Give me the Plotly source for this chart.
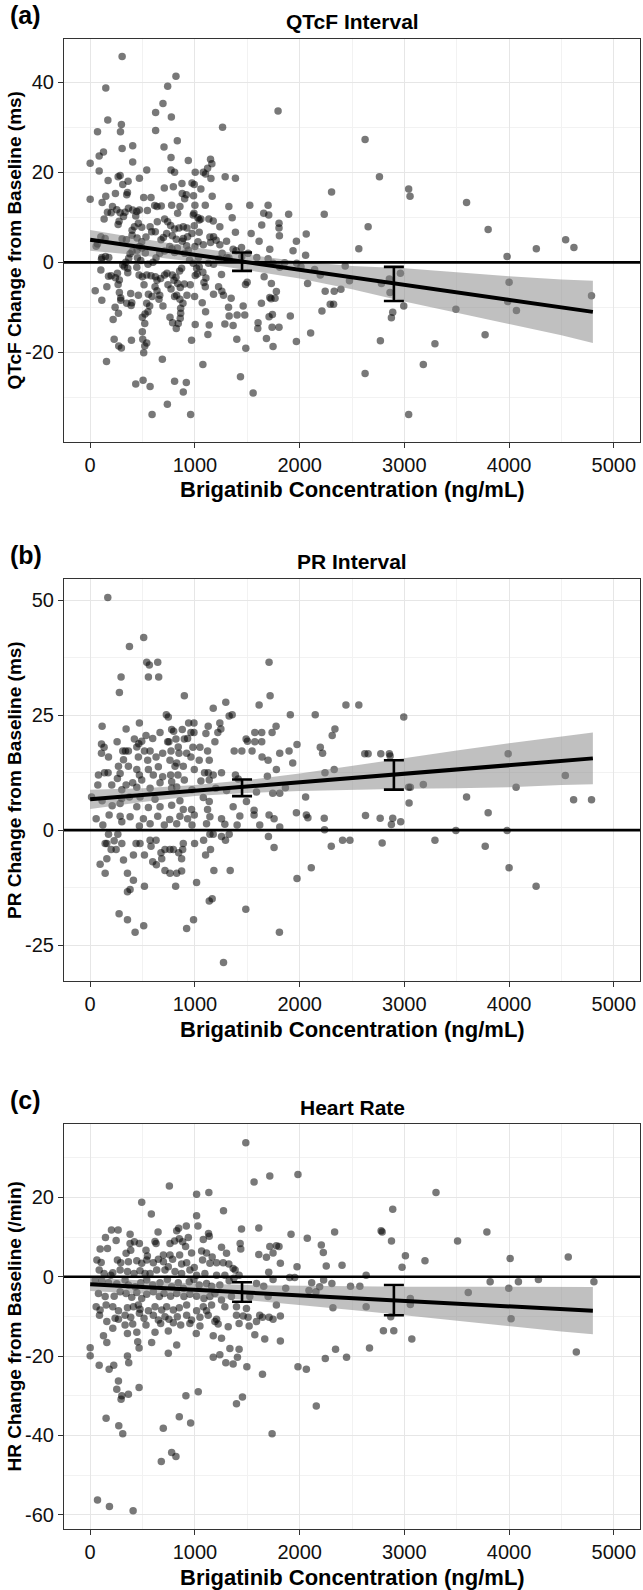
import plotly.graph_objects as go

W, H = 643, 1590

# ---------------- data ----------------
# Panel (a): QTcF change from baseline (ms) vs brigatinib concentration (ng/mL)
qtcf_points = [
    (2625,27.3),(2762,19.0),(2305,15.6),(3041,16.3),(3054,14.7),(3594,13.3),(2235,10.7),(3800,7.3),(2654,7.9),
    (2063,6.3),(4540,5.0),(2565,3.0),(4260,3.0),(4619,3.3),(2057,1.6),(3981,1.3),(2435,-0.8),(2143,-1.6),
    (2197,-2.8),(2076,-4.7),(2476,-4.1),(2781,-4.7),(2857,-3.7),(2962,-2.4),(4000,-4.4),(4787,-7.4),(2244,-6.4),
    (2330,-6.4),(2394,-6.0),(2863,-6.7),(3987,-8.7),(2994,-9.7),(2213,-10.8),(2292,-9.3),(2324,-9.3),(3492,-10.4),
    (4070,-10.7),(2889,-11.1),(2876,-12.3),(2105,-15.7),(3771,-16.1),(2771,-17.4),(3292,-18.1),(3181,-22.7),
    (2625,-24.7),(3041,-33.8),
    (305,45.7),(819,41.3),(149,38.7),(740,39.1),(695,35.3),(775,32.3),(625,33.3),(168,31.6),(298,30.6),(70,29.0),
    (289,29.0),(625,29.3),(1794,33.6),(1264,30.0),(832,27.0),(705,25.6),(305,25.3),(406,25.9),(127,24.5),(86,23.6),
    (0,22.0),(406,22.3),(772,23.3),(937,22.6),(1003,20.0),(806,20.0),(772,20.5),(540,20.5),(1149,22.9),(1162,21.9),
    (1121,20.9),(1080,20.0),(1102,19.6),(1289,19.0),(1387,18.7),(86,20.3),(286,19.3),(267,19.0),(171,18.2),(362,18.0),
    (470,18.7),(1153,18.6),(972,17.6),(994,17.3),(1057,16.3),(876,17.5),(708,16.5),(794,16.8),(311,17.3),(356,15.5),
    (0,14.0),(149,14.7),(241,15.3),(349,15.0),(511,14.4),(581,14.4),(879,15.3),(918,15.0),(902,14.1),(1165,14.7),
    (987,14.8),(616,12.6),(679,12.5),(778,12.7),(857,12.4),(1000,12.7),(1099,12.7),(114,13.3),(213,12.4),(254,11.7),
    (286,11.0),(365,12.0),(406,11.6),(445,11.3),(470,11.6),(546,11.5),(638,12.4),(835,10.9),(991,10.9),(1057,9.6),
    (1133,9.6),(1175,9.2),(1238,7.9),(1324,12.4),(1356,9.9),(1387,6.7),(133,9.6),(165,11.1),(200,11.0),(333,11.1),
    (435,10.3),(460,8.7),(267,8.4),(422,7.9),(400,7.1),(492,7.8),(572,7.9),(641,9.0),(711,9.6),(740,9.0),(768,8.2),
    (806,7.4),(848,7.6),(889,7.9),(924,7.6),(994,8.1),(1041,6.7),(1143,5.6),(1203,4.9),(1302,4.7),(1445,3.3),
    (1365,2.9),(1537,6.4),(1638,8.3),(1613,4.7),(1715,2.9),(1524,12.7),(1699,12.7),(1705,10.5),(1657,10.9),
    (1803,8.7),(1803,7.6),(1807,5.9),(1895,10.7),(1969,4.7),(1937,2.6),(1857,-0.1),(1746,-0.2),(1699,0.8),
    (1591,1.1),(1810,-1.1),(1972,-0.2),(2013,-1.0),(1911,-11.9),(1727,-8.1),(1740,-11.6),(1708,-12.1),(1737,-14.4),
    (1803,-14.4),(1635,-9.1),(1715,-7.8),(1778,-6.5),(1765,-8.0),(1730,-4.7),(1661,-3.2),(1499,-4.4),(1483,-4.9),
    (1461,-9.7),(1476,-11.7),(1403,-11.7),(1327,-11.9),(1286,-13.7),(1365,-14.0),(1400,-17.1),(1486,-19.1),
    (1435,-25.4),(1556,-29.0),(1603,-13.4),(1600,-14.7),(1683,-16.9),(1746,-18.7),(1969,-17.6),(1321,-10.0),
    (1346,-8.0),(1273,-7.3),(1257,-6.4),(1178,-7.1),(1226,-5.4),(1099,-5.4),(1086,-4.5),(1022,-2.6),(1076,-2.2),
    (1105,-3.5),(1130,-0.2),(1178,-0.4),(1226,0.8),(1260,2.0),(1305,1.1),(1324,1.0),(1254,-2.7),(1137,-13.9),
    (1102,-11.0),(1070,-9.0),(997,-7.6),(956,-5.0),(899,-4.8),(860,-5.6),(835,-4.7),(800,-4.0),(743,-5.0),(733,-2.4),
    (711,-2.8),(673,-3.6),(638,-4.0),(622,-3.2),(581,-3.0),(540,-2.8),(514,-5.0),(556,-7.1),(540,-9.1),(460,-7.3),
    (387,-6.9),(397,-9.0),(391,-9.6),(349,-9.1),(292,-7.9),(279,-6.7),(267,-4.9),(279,-3.9),(241,-3.4),(260,-2.4),
    (359,-2.3),(359,-1.3),(327,-1.0),(311,-0.6),(340,0.0),(368,0.9),(381,1.9),(400,2.4),(448,2.7),(470,3.5),
    (495,3.2),(527,2.1),(451,1.0),(483,0.4),(445,-1.1),(467,-2.8),(498,-3.2),(552,-0.4),(600,0.0),(629,1.0),
    (664,2.0),(711,2.5),(759,3.5),(781,3.0),(806,2.2),(832,3.2),(879,4.7),(921,3.7),(937,2.7),(902,2.0),(949,0.5),
    (984,-0.2),(1016,-1.3),(1041,-1.0),(873,-1.3),(854,-1.9),(819,-3.3),(784,-2.8),(772,-5.9),(806,-7.6),(826,-7.3),
    (857,-8.2),(886,-9.1),(864,-10.2),(864,-11.3),(860,-12.4),(841,-13.6),(822,-14.7),(787,-13.4),(762,-12.2),
    (695,-9.7),(657,-8.2),(664,-7.3),(638,-6.3),(619,-5.4),(591,-7.6),(568,-9.7),(552,-11.0),(524,-11.5),(498,-12.2),
    (521,-13.6),(498,-15.4),(502,-17.1),(521,-18.6),(511,-20.1),(540,-17.9),(394,-17.3),(298,-19.0),(273,-18.6),
    (229,-17.1),(219,-12.7),(270,-11.3),(238,-10.0),(292,-8.4),(111,-8.4),(159,-5.4),(200,-3.0),(175,-3.1),
    (102,-1.7),(111,1.1),(108,0.7),(178,1.1),(146,1.3),(143,5.3),(102,5.7),(70,4.1),(57,3.6),(48,-6.3),(156,-22.0),
    (435,-27.0),(505,-26.2),(572,-27.6),(806,-26.4),(918,-26.7),(889,-28.8),(737,-31.5),(591,-33.8),(959,-33.8),
    (689,-21.5),(1076,-22.7),(1124,-16.0),(1003,-13.8),(968,-17.3),(924,-7.3),(1003,-2.9),(1035,1.1),(972,6.4),
    (984,10.5),(1029,9.9),(1041,9.4),(1178,5.7),(1149,4.4),(1238,3.9),(1394,2.6),(1508,2.0),(1448,1.3),(318,10.2),
    (276,9.1),(305,5.2),(346,5.0),(400,6.0),(448,5.4),(492,4.6),(533,5.6),(587,6.8),(622,6.8),(676,5.0),(699,5.5),
    (730,6.4),(784,5.9),(822,5.1),(889,5.3),(930,5.7),(1000,3.5),(1029,4.6),(1080,3.9),
]

# Panel (b): PR change from baseline (ms)
pr_points = [
    (168,50.6),(511,41.9),(375,39.9),(540,36.5),(565,35.9),(645,36.5),(556,33.3),(654,33.3),(295,33.3),(279,29.9),
    (899,29.2),(1708,36.5),(1718,29.2),(1613,27.2),(1295,27.8),(1175,26.5),(1327,24.8),(1356,25.1),(1911,25.1),
    (2149,25.1),(727,25.1),(746,24.6),(114,22.6),(343,22.0),(470,23.3),(940,23.3),(991,23.3),(1127,22.6),(1238,23.3),
    (1248,22.0),(1219,21.2),(1775,22.6),(1737,21.2),(2337,22.0),(2311,20.6),(533,20.6),(597,19.9),(667,21.2),
    (778,21.9),(797,21.5),(879,21.9),(930,19.9),(962,21.2),(991,21.2),(1105,21.0),(1191,19.2),(1489,19.8),(1502,19.3),
    (1572,21.2),(1638,21.2),(1572,19.2),(1638,19.2),(1975,18.6),(108,18.7),(133,18.0),(257,19.2),(422,19.8),
    (445,18.1),(464,18.8),(492,19.3),(740,19.2),(752,19.2),(819,19.8),(841,18.1),(899,19.8),(981,18.0),(1048,18.0),
    (1121,17.2),(108,16.7),(175,15.9),(311,17.2),(337,17.2),(365,17.2),(518,17.2),(572,17.2),(692,16.7),(772,17.2),
    (848,16.7),(921,16.7),(1375,17.2),(1448,17.2),(1546,17.2),(1810,16.7),(1899,17.2),(2197,18.0),(2219,16.7),
    (1641,15.9),(1699,15.2),(1934,14.6),(318,15.3),(460,15.9),(549,15.2),(629,15.9),(762,15.2),(826,14.6),(962,15.9),
    (1041,15.2),(1137,15.2),(270,13.9),(365,13.9),(445,13.2),(556,13.2),(651,13.8),(810,13.9),(889,13.9),(994,13.2),
    (137,12.5),(171,12.5),(79,12.0),(286,12.3),(470,12.0),(603,12.0),(692,11.6),(768,12.0),(838,12.0),(1092,12.5),
    (1127,12.5),(1175,12.0),(1254,12.5),(1387,12.0),(1778,13.2),(2242,12.5),(2330,13.2),(260,11.2),(343,9.8),
    (406,10.3),(492,10.9),(667,10.3),(778,10.5),(899,10.9),(1057,10.7),(1137,10.9),(1413,11.1),(1692,11.7),
    (1864,9.2),(73,9.8),(206,9.8),(302,8.8),(445,9.3),(572,9.1),(778,9.1),(826,9.4),(972,8.8),(1200,9.1),(1302,8.6),
    (1588,8.3),(1743,8.0),(1810,8.0),(13,7.2),(114,6.4),(302,6.9),(375,7.2),(476,7.2),(619,6.7),(857,6.4),(1080,7.1),
    (1137,6.2),(1492,6.2),(2057,7.2),(210,5.3),(286,5.8),(445,5.1),(556,4.9),(667,5.1),(778,5.4),(889,4.5),(968,4.5),
    (1121,4.5),(1365,5.1),(1565,4.3),(1969,3.8),(2064,3.3),(2235,2.6),(57,2.5),(181,3.3),(286,3.0),(381,2.9),
    (508,2.5),(645,3.0),(759,2.3),(857,3.0),(930,2.5),(994,3.3),(1143,2.9),(1254,2.5),(1429,3.1),(1565,3.3),
    (1708,3.3),(1756,2.5),(121,1.1),(302,1.8),(470,0.9),(572,1.4),(708,1.1),(826,1.4),(972,1.1),(1111,1.4),
    (1286,1.3),(1403,1.1),(1619,1.1),(1810,0.7),(2238,0.1),
    (2442,27.2),(2565,27.2),(2994,24.6),(2622,16.6),(2654,16.6),(2775,16.6),(2857,16.6),(2864,16.1),(3991,16.6),
    (4537,11.9),(3041,9.3),(3057,9.3),(3181,9.9),(4067,9.3),(3594,7.2),(4616,6.6),(4787,6.6),(3045,5.9),(3800,3.8),
    (2079,2.7),(2629,3.2),(2769,2.6),(2889,2.6),(2876,1.2),(2965,1.8),(3492,-0.1),(3981,-0.1),
    (175,-0.9),(264,-0.9),(143,-2.9),(159,-2.9),(302,-2.9),(229,-2.3),(200,-4.2),(248,-4.2),(159,-6.2),(95,-7.4),
    (143,-9.4),(318,-6.5),(356,-9.4),(413,-5.4),(438,-2.9),(476,-2.9),(518,-5.4),(572,-2.2),(629,-2.2),(581,-3.5),
    (676,-4.9),(714,-4.2),(683,-6.2),(597,-6.9),(632,-7.5),(714,-8.8),(762,-9.4),(762,-4.2),(794,-4.2),(845,-4.9),
    (873,-6.2),(883,-4.2),(889,-2.9),(873,-8.9),(826,-9.4),(997,-2.9),(1083,-2.2),(1102,-5.4),(1149,-4.2),(1143,-0.9),
    (1175,-0.9),(1181,-8.8),(1254,-1.4),(1292,-2.2),(1327,-0.9),(1337,-8.8),(413,-10.9),(381,-12.9),(356,-13.4),
    (518,-12.2),(816,-12.2),(1016,-11.4),(1165,-14.9),(1137,-15.4),(1486,-17.2),(276,-18.2),(356,-19.5),(429,-22.2),
    (511,-20.8),(921,-21.4),(987,-19.5),(1807,-22.2),(1273,-28.8),(1702,-1.4),(1756,-3.8),(1975,-10.5),(2111,-8.2),
    (2302,-3.5),(2410,-2.2),(2480,-2.2),(2788,-2.8),(3292,-2.2),(3772,-3.5),(4000,-8.2),(4258,-12.2),
]

# Panel (c): heart-rate change from baseline (/min)
hr_points = [
    (1486,33.8),(1565,23.9),(1715,25.4),(1984,25.8),(756,22.9),(1016,20.8),(1133,21.2),(492,18.8),(584,15.8),
    (1016,15.4),(1029,12.8),(1273,16.6),(203,11.8),(267,11.8),(381,10.7),(648,11.3),(826,11.6),(845,12.2),(918,12.8),
    (1130,10.9),(1137,10.2),(1080,9.4),(1445,12.0),(1610,12.3),(1918,10.7),(2334,11.3),(146,9.9),(248,9.1),(381,8.4),
    (422,8.8),(470,8.4),(619,8.9),(629,8.4),(762,8.4),(806,9.0),(851,9.6),(883,8.8),(937,9.9),(911,7.6),(1254,7.4),
    (1432,8.4),(1715,7.6),(1778,7.8),(1803,7.6),(2073,9.7),(2207,8.0),(2226,6.1),(95,7.0),(165,7.1),(343,5.9),
    (387,6.7),(533,6.7),(546,5.2),(699,5.5),(762,5.5),(854,5.5),(968,6.0),(1064,6.5),(1111,6.0),(1165,5.0),(1302,5.9),
    (1438,7.0),(1610,5.6),(1683,4.9),(1746,6.0),(1816,3.4),(2254,2.7),(1975,2.5),(64,4.2),(105,3.6),(260,4.2),
    (292,3.5),(365,3.8),(445,4.0),(492,3.4),(540,4.2),(603,3.5),(651,4.4),(699,3.8),(746,2.5),(787,4.4),(873,3.2),
    (921,3.5),(994,2.3),(1073,4.2),(1143,3.4),(1207,3.5),(1270,3.5),(1324,3.2),(1365,2.1),(1384,1.7),(1705,1.1),
    (1905,-0.2),(1953,-0.2),(86,1.7),(133,0.8),(197,0.4),(216,1.0),(286,1.7),(356,1.3),(419,0.8),(476,1.5),(524,0.8),
    (572,0.8),(635,1.7),(714,1.7),(810,1.3),(873,0.8),(952,1.7),(1016,0.4),(1095,0.8),(1207,0.4),(1286,0.4),
    (1422,0.4),(48,-0.8),(111,-1.0),(175,-1.5),(254,-1.8),(333,-0.8),(365,-2.1),(429,-2.5),(483,-1.5),(540,-0.8),
    (597,-2.1),(667,-1.5),(737,-0.7),(778,-2.5),(841,-1.5),(889,-2.9),(946,-1.3),(991,-0.7),(1041,-2.1),(1111,-1.7),
    (1159,-2.4),(1238,-2.1),(1327,-1.0),(1372,-0.4),(1588,-1.7),(1657,-2.4),(1746,-0.7),(1867,-2.9),(2115,-1.5),
    (2191,-2.5),(2308,-1.7),(79,-4.2),(143,-5.0),(229,-4.9),(286,-3.8),(343,-4.2),(397,-5.2),(445,-4.0),(492,-5.5),
    (540,-4.4),(603,-3.8),(660,-5.0),(705,-4.2),(768,-4.9),(826,-4.2),(895,-5.0),(952,-4.4),(1016,-4.9),(1086,-5.5),
    (1143,-5.0),(1191,-4.2),(1254,-5.9),(1349,-5.0),(1524,-5.0),(1699,-5.0),(1778,-7.1),(2156,-3.8),(57,-7.6),
    (95,-8.4),(152,-7.1),(216,-7.6),(270,-8.6),(356,-7.8),(413,-7.6),(460,-7.1),(476,-8.2),(556,-8.6),(619,-7.6),
    (683,-8.4),(730,-7.6),(794,-8.4),(851,-7.8),(921,-7.1),(1016,-8.6),(1080,-7.6),(1111,-8.6),(1159,-7.1),
    (1286,-7.6),(1397,-7.6),(1492,-8.0),(2318,-7.8),(89,-9.7),(238,-10.5),(270,-10.7),(333,-9.7),(387,-10.2),
    (470,-9.2),(514,-10.5),(603,-9.7),(651,-10.9),(714,-10.1),(752,-10.7),(832,-10.1),(921,-9.7),(968,-10.9),
    (1048,-10.2),(1127,-9.7),(1207,-10.7),(1397,-9.7),(1461,-9.9),(1508,-10.2),(1619,-9.7),(1645,-10.2),
    (1708,-10.2),(1816,-9.9),(159,-11.3),(333,-12.2),(406,-11.9),(533,-12.2),(673,-11.8),(794,-11.6),(864,-12.2),
    (952,-11.8),(1048,-12.4),(1191,-11.3),(1222,-11.9),(1318,-12.6),(1422,-11.8),(1518,-12.4),(1588,-11.3),
    (1746,-10.7),
    (3302,21.2),(2889,17.0),(2778,11.6),(2788,11.3),(2877,9.0),(3508,9.0),(3788,11.3),(3010,5.3),(3197,4.0),
    (2978,2.4),(4010,4.6),(4565,5.0),(2405,2.9),(2635,0.4),(2229,-0.8),(2089,-3.5),(2486,-2.4),(2575,-2.4),
    (3819,-1.3),(4089,-1.3),(4280,-0.7),(4810,-1.3),(3610,-4.0),(3997,-2.9),(3057,-5.5),(3057,-7.0),(2635,-7.6),
    (4019,-10.6),(2870,-10.1),(2800,-13.6),(2899,-13.6),(3071,-15.7),
    (127,-14.9),(159,-16.6),(216,-13.0),(356,-14.3),(445,-14.0),(454,-16.4),(467,-18.0),(587,-16.6),(619,-14.0),
    (746,-13.7),(826,-17.2),(1013,-14.3),(1175,-14.9),(1254,-15.5),(1334,-18.1),(1422,-18.3),(1572,-14.6),
    (1667,-15.7),(1816,-16.2),(0,-17.9),(0,-19.9),(86,-22.3),(181,-23.3),(225,-22.3),(356,-20.0),(368,-21.7),
    (746,-19.3),(1175,-20.3),(1238,-19.7),(1295,-21.7),(1365,-22.0),(1406,-20.3),(1496,-22.7),(1645,-24.6),
    (1984,-22.7),(2064,-23.3),(2245,-20.6),(2343,-18.3),(270,-26.3),(254,-28.4),(295,-30.9),(302,-30.0),(365,-29.6),
    (467,-27.9),(914,-30.0),(1032,-29.0),(1397,-32.0),(1454,-30.3),(2159,-32.6),(152,-35.7),(851,-35.3),(959,-36.9),
    (698,-38.2),(273,-37.6),(311,-39.6),(1737,-39.6),(778,-44.3),(819,-45.3),(679,-46.6),(70,-56.3),(184,-57.9),
    (410,-59.0),(2448,-20.3),(2667,-18.0),(4642,-19.0),
]

# fitted linear model and its confidence band
fit_conc = [0, 500, 1000, 1500, 2000, 2500, 3000, 3500, 4000, 4500, 4800]
qtcf_lo = [2.6, 1.5, 0.1, -1.7, -3.6, -6.0, -8.7, -11.2, -13.7, -16.2, -17.9]
qtcf_hi = [7.2, 5.2, 3.3, 1.7, 0.2, -0.8, -1.3, -2.2, -3.1, -3.8, -4.1]
pr_lo = [4.6, 6.1, 7.4, 8.1, 8.5, 8.8, 9.0, 9.1, 9.3, 9.8, 10.0]
pr_hi = [8.8, 9.1, 9.8, 10.9, 12.3, 14.0, 15.6, 17.3, 18.9, 20.4, 21.2]
hr_lo = [-3.6, -4.2, -4.9, -5.9, -7.1, -8.4, -9.7, -11.1, -12.4, -13.8, -14.5]
hr_hi = [-0.2, -1.0, -1.7, -2.1, -2.3, -2.4, -2.5, -2.5, -2.6, -2.6, -2.6]
line_conc = [0, 4800]
qtcf_line = [5.0, -11.0]
pr_line = [6.7, 15.6]
hr_line = [-1.9, -8.6]

# binned means with 90% CI
bin_conc = [1450, 2900]
qtcf_mean = [0.2, -4.8]; qtcf_ci_hi = [2.2, -1.0]; qtcf_ci_lo = [-1.9, -8.6]
pr_mean = [9.2, 12.0];   pr_ci_hi = [11.0, 15.2];  pr_ci_lo = [7.4, 8.8]
hr_mean = [-3.9, -5.9];  hr_ci_hi = [-1.4, -2.1];  hr_ci_lo = [-6.3, -9.7]

x_ticks = [0, 1000, 2000, 3000, 4000, 5000]
x_minor = [500, 1500, 2500, 3500, 4500]

panels = [
    dict(pts=qtcf_points, lo=qtcf_lo, hi=qtcf_hi, line=qtcf_line, mean=qtcf_mean, cih=qtcf_ci_hi, cil=qtcf_ci_lo,
         yrange=[-39.9, 49.6], yticks=[-20, 0, 20, 40], yminor=[-30, -10, 10, 30],
         title="QTcF Interval", tag="(a)", ytitle="QTcF Change from Baseline (ms)",
         top=39, bottom=442),
    dict(pts=pr_points, lo=pr_lo, hi=pr_hi, line=pr_line, mean=pr_mean, cih=pr_ci_hi, cil=pr_ci_lo,
         yrange=[-32.8, 54.6], yticks=[-25, 0, 25, 50], yminor=[-12.5, 12.5, 37.5],
         title="PR Interval", tag="(b)", ytitle="PR Change from Baseline (ms)",
         top=579, bottom=981),
    dict(pts=hr_points, lo=hr_lo, hi=hr_hi, line=hr_line, mean=hr_mean, cih=hr_ci_hi, cil=hr_ci_lo,
         yrange=[-63.6, 38.5], yticks=[-60, -40, -20, 0, 20], yminor=[-50, -30, -10, 10, 30],
         title="Heart Rate", tag="(c)", ytitle="HR Change from Baseline (/min)",
         top=1124, bottom=1529),
]

# ---------------- figure ----------------
LEFT, RIGHT = 64, 640
FONT = "Liberation Sans, Arial, sans-serif"

def px_x(p):
    return p / W

def px_y(p):
    return 1 - p / H

fig = go.Figure()
annotations = []
shapes = []
layout_axes = {}

for i, pnl in enumerate(panels, start=1):
    xa = "x" if i == 1 else f"x{i}"
    ya = "y" if i == 1 else f"y{i}"
    conc = [p[0] for p in pnl["pts"]]
    val = [p[1] for p in pnl["pts"]]

    fig.add_trace(go.Scatter(x=conc, y=val, mode="markers", xaxis=xa, yaxis=ya,
                             marker=dict(size=7.5, color="rgba(0,0,0,0.53)", line=dict(width=0)),
                             showlegend=False, hoverinfo="skip"))
    # confidence band
    fig.add_trace(go.Scatter(x=fit_conc, y=pnl["lo"], mode="lines", xaxis=xa, yaxis=ya,
                             line=dict(width=0, color="rgba(0,0,0,0)"), showlegend=False, hoverinfo="skip"))
    fig.add_trace(go.Scatter(x=fit_conc, y=pnl["hi"], mode="lines", xaxis=xa, yaxis=ya, fill="tonexty",
                             fillcolor="rgba(130,130,130,0.5)",
                             line=dict(width=0, color="rgba(0,0,0,0)"), showlegend=False, hoverinfo="skip"))
    # fitted line
    fig.add_trace(go.Scatter(x=line_conc, y=pnl["line"], mode="lines", xaxis=xa, yaxis=ya,
                             line=dict(width=4, color="black"), showlegend=False, hoverinfo="skip"))
    # binned mean error bars
    up = [h - m for h, m in zip(pnl["cih"], pnl["mean"])]
    dn = [m - l for m, l in zip(pnl["mean"], pnl["cil"])]
    fig.add_trace(go.Scatter(x=bin_conc, y=pnl["mean"], mode="markers", xaxis=xa, yaxis=ya,
                             marker=dict(size=1, color="rgba(0,0,0,0)"),
                             error_y=dict(type="data", symmetric=False, array=up, arrayminus=dn,
                                          width=10, thickness=2.6, color="black"),
                             showlegend=False, hoverinfo="skip"))

    # zero reference line
    shapes.append(dict(type="line", xref=f"{xa} domain", yref=ya, x0=0, x1=1, y0=0, y1=0,
                       line=dict(color="black", width=2.6), layer="above"))

    ydom = [px_y(pnl["bottom"]), px_y(pnl["top"])]
    common = dict(showline=True, mirror=True, linecolor="#333333", linewidth=1.2,
                  ticks="outside", ticklen=5, tickwidth=1.2, tickcolor="#333333",
                  showgrid=True, gridcolor="#e6e6e6", gridwidth=1, zeroline=False,
                  tickfont=dict(family=FONT, size=20, color="#111111"))
    xkey = "xaxis" if i == 1 else f"xaxis{i}"
    ykey = "yaxis" if i == 1 else f"yaxis{i}"
    layout_axes[xkey] = dict(domain=[px_x(LEFT), px_x(RIGHT)], anchor=ya, range=[-250, 5250],
                             tickmode="array", tickvals=x_ticks, ticktext=[str(t) for t in x_ticks],
                             minor=dict(tickmode="array", tickvals=x_minor, showgrid=True,
                                        gridcolor="#f2f2f2", gridwidth=1, ticks=""),
                             **common)
    layout_axes[ykey] = dict(domain=ydom, anchor=xa, range=pnl["yrange"],
                             tickmode="array", tickvals=pnl["yticks"],
                             ticktext=[f"{t:g}" for t in pnl["yticks"]],
                             minor=dict(tickmode="array", tickvals=pnl["yminor"], showgrid=True,
                                        gridcolor="#f2f2f2", gridwidth=1, ticks=""),
                             **common)

    top, bottom = pnl["top"], pnl["bottom"]
    annotations += [
        dict(text=f"<b>{pnl['tag']}</b>", x=px_x(8), y=px_y(top - 24), xanchor="left", yanchor="middle",
             font=dict(family=FONT, size=25, color="black")),
        dict(text=f"<b>{pnl['title']}</b>", x=px_x((LEFT + RIGHT) / 2), y=px_y(top - 17),
             xanchor="center", yanchor="middle", font=dict(family=FONT, size=21, color="black")),
        dict(text="<b>Brigatinib Concentration (ng/mL)</b>", x=px_x((LEFT + RIGHT) / 2), y=px_y(bottom + 48),
             xanchor="center", yanchor="middle", font=dict(family=FONT, size=22, color="black")),
        dict(text=f"<b>{pnl['ytitle']}</b>", x=px_x(14), y=px_y((top + bottom) / 2), textangle=-90,
             xanchor="center", yanchor="middle", font=dict(family=FONT, size=19, color="black")),
    ]

for a in annotations:
    a.update(xref="paper", yref="paper", showarrow=False)

fig.update_layout(width=W, height=H, margin=dict(l=0, r=0, t=0, b=0),
                  plot_bgcolor="white", paper_bgcolor="white", showlegend=False,
                  annotations=annotations, shapes=shapes, **layout_axes)

fig.write_html("out.html", config={"displayModeBar": False},
               post_script="document.body.style.margin='0px';document.body.style.padding='0px';")
